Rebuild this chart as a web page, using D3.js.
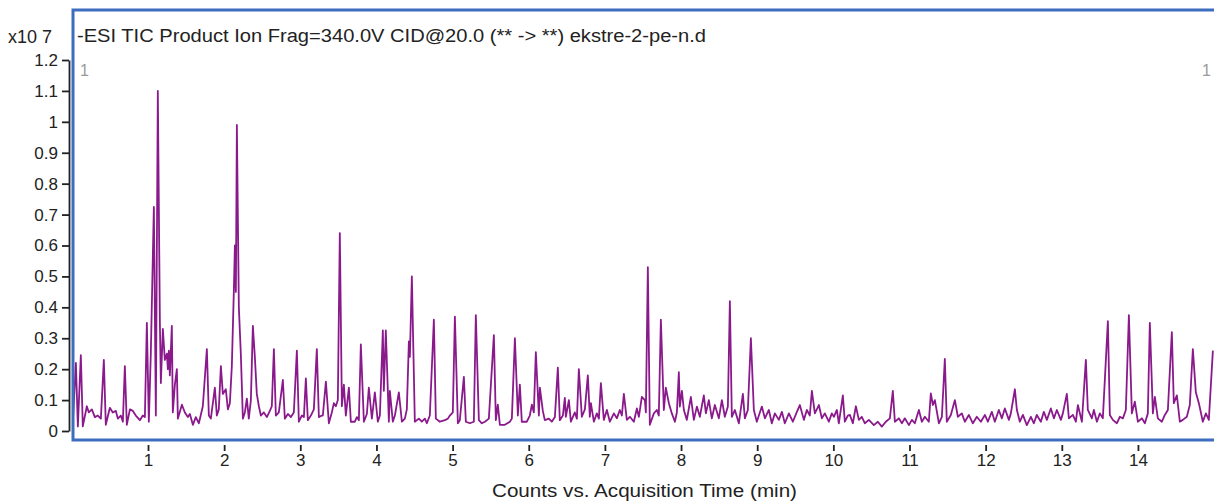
<!DOCTYPE html>
<html>
<head>
<meta charset="utf-8">
<style>
  body { margin: 0; background: #fff; }
  svg text { font-family: "Liberation Sans", Arial, sans-serif; fill: #222; }
  .frame { fill: none; stroke: #3d6dbf; stroke-width: 3; }
  .trace { fill: none; stroke: #8a1a8c; stroke-width: 1.8; stroke-linejoin: round; }
  .axis path, .axis line { stroke: #222; stroke-width: 1.8; }
  .axis text { font-size: 17px; fill: #222; }
  .marker { fill: #9a9a9a; font-size: 16px; }
</style>
</head>
<body>
<svg class="chart"></svg>
<script src="https://cdn.jsdelivr.net/npm/d3@7"></script>
<script>
  var title = "-ESI TIC Product Ion Frag=340.0V CID@20.0 (** -> **) ekstre-2-pe-n.d";
  var xTitle = "Counts vs. Acquisition Time (min)";
  var yExponent = "x10 7";

  var xTicks = [1, 2, 3, 4, 5, 6, 7, 8, 9, 10, 11, 12, 13, 14];
  var yTicks = [0, 0.1, 0.2, 0.3, 0.4, 0.5, 0.6, 0.7, 0.8, 0.9, 1, 1.1, 1.2];

  // [acquisition time (min), counts x10^7]
  var trace = [
    [0.013, 0.03], [0.053, 0.22], [0.079, 0.015], [0.118, 0.245], [0.144, 0.015], [0.197, 0.08],
    [0.223, 0.06], [0.263, 0.07], [0.302, 0.045], [0.341, 0.05], [0.381, 0.04], [0.407, 0.165],
    [0.420, 0.23], [0.446, 0.02], [0.499, 0.075], [0.538, 0.06], [0.578, 0.065], [0.604, 0.04],
    [0.643, 0.05], [0.670, 0.03], [0.696, 0.21], [0.722, 0.02], [0.762, 0.07], [0.801, 0.065],
    [0.840, 0.05], [0.893, 0.035], [0.932, 0.05], [0.959, 0.045], [0.985, 0.35], [1.011, 0.03],
    [1.037, 0.25], [1.077, 0.725], [1.103, 0.05], [1.129, 1.1], [1.156, 0.35], [1.169, 0.155],
    [1.195, 0.33], [1.221, 0.23], [1.248, 0.25], [1.261, 0.2], [1.274, 0.26], [1.287, 0.18],
    [1.313, 0.34], [1.326, 0.06], [1.353, 0.15], [1.379, 0.2], [1.392, 0.04], [1.445, 0.085],
    [1.484, 0.06], [1.523, 0.045], [1.550, 0.055], [1.589, 0.02], [1.628, 0.045], [1.668, 0.025],
    [1.720, 0.08], [1.773, 0.265], [1.799, 0.05], [1.825, 0.04], [1.852, 0.09], [1.878, 0.14],
    [1.904, 0.05], [1.930, 0.07], [1.957, 0.21], [1.983, 0.12], [2.022, 0.135], [2.049, 0.07],
    [2.075, 0.09], [2.101, 0.21], [2.127, 0.45], [2.141, 0.6], [2.154, 0.45], [2.167, 0.99],
    [2.193, 0.4], [2.219, 0.25], [2.246, 0.04], [2.272, 0.06], [2.298, 0.105], [2.324, 0.04],
    [2.351, 0.1], [2.377, 0.34], [2.403, 0.24], [2.429, 0.12], [2.456, 0.08], [2.482, 0.05],
    [2.521, 0.06], [2.561, 0.045], [2.600, 0.065], [2.626, 0.08], [2.653, 0.265], [2.679, 0.05],
    [2.718, 0.06], [2.771, 0.165], [2.797, 0.04], [2.837, 0.055], [2.876, 0.045], [2.915, 0.06],
    [2.955, 0.26], [2.981, 0.03], [3.020, 0.05], [3.047, 0.045], [3.073, 0.17], [3.099, 0.035],
    [3.139, 0.05], [3.178, 0.07], [3.217, 0.265], [3.244, 0.045], [3.283, 0.05],
    [3.296, 0.05], [3.336, 0.16], [3.375, 0.025], [3.414, 0.06], [3.441, 0.09], [3.467, 0.08],
    [3.493, 0.1], [3.519, 0.64], [3.546, 0.08], [3.572, 0.15], [3.598, 0.05], [3.638, 0.14],
    [3.664, 0.03], [3.716, 0.03], [3.743, 0.045], [3.769, 0.035], [3.795, 0.28], [3.835, 0.03],
    [3.874, 0.055], [3.900, 0.14], [3.940, 0.04], [3.979, 0.125], [4.018, 0.03], [4.045, 0.05],
    [4.084, 0.325], [4.097, 0.13], [4.123, 0.325], [4.163, 0.03], [4.176, 0.13], [4.215, 0.03],
    [4.242, 0.05], [4.294, 0.125], [4.334, 0.03], [4.373, 0.04], [4.399, 0.07], [4.426, 0.29],
    [4.439, 0.24], [4.465, 0.5], [4.504, 0.03], [4.557, 0.04], [4.596, 0.03], [4.636, 0.04],
    [4.662, 0.025], [4.701, 0.05], [4.754, 0.36], [4.780, 0.04], [4.833, 0.03], [4.898, 0.035],
    [4.938, 0.04], [4.964, 0.05], [5.003, 0.06],
    [5.030, 0.37], [5.069, 0.025], [5.095, 0.035], [5.148, 0.175], [5.174, 0.03], [5.227, 0.025],
    [5.279, 0.03], [5.305, 0.375], [5.345, 0.035], [5.384, 0.025], [5.424, 0.03], [5.476, 0.04],
    [5.542, 0.31], [5.568, 0.035], [5.594, 0.085], [5.621, 0.02], [5.686, 0.02], [5.752, 0.03],
    [5.778, 0.04], [5.818, 0.30], [5.857, 0.05], [5.883, 0.15], [5.909, 0.03], [5.975, 0.03],
    [6.014, 0.05], [6.041, 0.085], [6.067, 0.06], [6.093, 0.255], [6.133, 0.05], [6.146, 0.14],
    [6.185, 0.065], [6.211, 0.035], [6.264, 0.04], [6.303, 0.03], [6.343, 0.045], [6.382, 0.205],
    [6.408, 0.035], [6.448, 0.05], [6.474, 0.107], [6.487, 0.046], [6.527, 0.1], [6.553, 0.03],
    [6.605, 0.06], [6.632, 0.04], [6.658, 0.2], [6.697, 0.046], [6.737, 0.07], [6.776, 0.18],
    [6.802, 0.046], [6.816, 0.09], [6.855, 0.03], [6.894, 0.057], [6.921, 0.04], [6.947, 0.155],
    [6.986, 0.036], [7.026, 0.068], [7.065, 0.03], [7.118, 0.057], [7.157, 0.041], [7.196, 0.068],
    [7.223, 0.05], [7.249, 0.12], [7.288, 0.036], [7.328, 0.046], [7.380, 0.03], [7.420, 0.073],
    [7.446, 0.046], [7.485, 0.11], [7.525, 0.1], [7.538, 0.06], [7.564, 0.53],
    [7.590, 0.02], [7.643, 0.057], [7.682, 0.068], [7.708, 0.05], [7.735, 0.36], [7.774, 0.068],
    [7.800, 0.14], [7.840, 0.09], [7.879, 0.057], [7.919, 0.03], [7.945, 0.06], [7.971, 0.19],
    [7.984, 0.079], [8.011, 0.13], [8.037, 0.068], [8.076, 0.036], [8.129, 0.11], [8.168, 0.036],
    [8.208, 0.079], [8.247, 0.046], [8.299, 0.115], [8.326, 0.057], [8.365, 0.1], [8.404, 0.041],
    [8.444, 0.084], [8.496, 0.041], [8.536, 0.1], [8.575, 0.046], [8.615, 0.079], [8.641, 0.42],
    [8.667, 0.046], [8.707, 0.068], [8.759, 0.025], [8.812, 0.12], [8.838, 0.041], [8.877, 0.068],
    [8.917, 0.30], [8.956, 0.068], [8.995, 0.03], [9.061, 0.079], [9.101, 0.041], [9.153, 0.068],
    [9.192, 0.025], [9.232, 0.057], [9.284, 0.036], [9.324, 0.062], [9.363, 0.025], [9.416, 0.057],
    [9.468, 0.03], [9.521, 0.062], [9.560, 0.084], [9.613, 0.036], [9.652, 0.068], [9.691, 0.05],
    [9.718, 0.13], [9.757, 0.057], [9.810, 0.084], [9.849, 0.041], [9.888, 0.057], [9.941, 0.03],
    [9.980, 0.057],
    [10.007, 0.046], [10.046, 0.068], [10.072, 0.025], [10.125, 0.115], [10.151, 0.03], [10.190, 0.05],
    [10.217, 0.052], [10.256, 0.025], [10.296, 0.08], [10.335, 0.036], [10.374, 0.046], [10.414, 0.025],
    [10.466, 0.036], [10.532, 0.019], [10.584, 0.03], [10.637, 0.014], [10.689, 0.03], [10.742, 0.041],
    [10.781, 0.13], [10.808, 0.03], [10.860, 0.041], [10.900, 0.025], [10.939, 0.041], [10.992, 0.019],
    [11.031, 0.036], [11.070, 0.025], [11.123, 0.068], [11.162, 0.03], [11.202, 0.046], [11.254, 0.03],
    [11.280, 0.122], [11.307, 0.084], [11.333, 0.1], [11.386, 0.025], [11.425, 0.046], [11.464, 0.233],
    [11.490, 0.03], [11.543, 0.052], [11.596, 0.1], [11.635, 0.046], [11.687, 0.057], [11.727, 0.03],
    [11.779, 0.052], [11.832, 0.025], [11.884, 0.046], [11.937, 0.03], [11.990, 0.052], [12.029, 0.03],
    [12.081, 0.062], [12.121, 0.03], [12.173, 0.068], [12.213, 0.041], [12.252, 0.073], [12.305, 0.036],
    [12.331, 0.057], [12.384, 0.135], [12.410, 0.068], [12.449, 0.03],
    [12.489, 0.052], [12.541, 0.019], [12.594, 0.046], [12.633, 0.025], [12.672, 0.052], [12.725, 0.03],
    [12.764, 0.062], [12.804, 0.036], [12.856, 0.073], [12.896, 0.041], [12.935, 0.068], [12.988, 0.036],
    [13.014, 0.057], [13.066, 0.12], [13.093, 0.041], [13.145, 0.052], [13.185, 0.03], [13.211, 0.084],
    [13.264, 0.03], [13.316, 0.23], [13.342, 0.068], [13.395, 0.041], [13.421, 0.068], [13.461, 0.03],
    [13.500, 0.057], [13.539, 0.041], [13.605, 0.355], [13.631, 0.052], [13.670, 0.036], [13.723, 0.025],
    [13.762, 0.046], [13.802, 0.041], [13.841, 0.068], [13.881, 0.375], [13.920, 0.057], [13.959, 0.095],
    [13.999, 0.03], [14.051, 0.041], [14.091, 0.025], [14.130, 0.057], [14.156, 0.35], [14.196, 0.057],
    [14.222, 0.11], [14.261, 0.041], [14.314, 0.03], [14.353, 0.052], [14.393, 0.068], [14.445, 0.32],
    [14.471, 0.09], [14.511, 0.115], [14.550, 0.03], [14.589, 0.036], [14.642, 0.046], [14.681, 0.084],
    [14.721, 0.265], [14.760, 0.125], [14.800, 0.09], [14.852, 0.03], [14.892, 0.057], [14.931, 0.036],
    [14.984, 0.26]
  ];

  var width = 1214, height = 501;
  var frame = { left: 73, top: 10, right: 1222, bottom: 440 };

  var chart = d3.select(".chart")
    .attr("width", width)
    .attr("height", height);

  var x = d3.scaleLinear().domain([0, 15]).range([71.85, 71.85 + 15 * 76.15]);
  var y = d3.scaleLinear().domain([0, 1.2]).range([431, 60]);

  chart.append("clipPath")
    .attr("id", "plot-clip")
    .append("rect")
    .attr("x", frame.left + 1)
    .attr("y", frame.top + 1)
    .attr("width", frame.right - frame.left)
    .attr("height", frame.bottom - frame.top - 2);

  // trace
  var line = d3.line()
    .x(function(d) { return x(d[0]); })
    .y(function(d) { return y(d[1]); });

  chart.append("path")
    .datum(trace)
    .attr("class", "trace")
    .attr("clip-path", "url(#plot-clip)")
    .attr("d", line);

  // blue plot frame
  chart.append("rect")
    .attr("class", "frame")
    .attr("x", frame.left)
    .attr("y", frame.top)
    .attr("width", frame.right - frame.left)
    .attr("height", frame.bottom - frame.top);

  // y axis
  chart.append("g")
    .attr("class", "axis")
    .attr("transform", "translate(69,0)")
    .call(d3.axisLeft(y)
      .tickValues(yTicks)
      .tickFormat(function(d) { return String(d); })
      .tickSize(7)
      .tickSizeOuter(0)
      .tickPadding(4));

  // x axis: ticks only, no baseline
  var xAxis = chart.append("g")
    .attr("class", "axis")
    .attr("transform", "translate(0,445)")
    .call(d3.axisBottom(x)
      .tickValues(xTicks)
      .tickSize(6)
      .tickPadding(3));
  xAxis.select(".domain").remove();
  xAxis.selectAll(".tick line").attr("stroke-width", 1.3);

  chart.append("text")
    .attr("x", 8)
    .attr("y", 43)
    .style("font-size", "18px")
    .text(yExponent);

  chart.append("text")
    .attr("x", 77)
    .attr("y", 42)
    .style("font-size", "18px")
    .attr("textLength", 629)
    .attr("lengthAdjust", "spacingAndGlyphs")
    .text(title);

  chart.append("text")
    .attr("class", "marker")
    .attr("x", 80)
    .attr("y", 76)
    .text("1");

  chart.append("text")
    .attr("class", "marker")
    .attr("x", 1202)
    .attr("y", 76)
    .text("1");

  chart.append("text")
    .attr("x", 492)
    .attr("y", 497)
    .style("font-size", "18px")
    .attr("textLength", 305)
    .attr("lengthAdjust", "spacingAndGlyphs")
    .text(xTitle);
</script>
</body>
</html>
